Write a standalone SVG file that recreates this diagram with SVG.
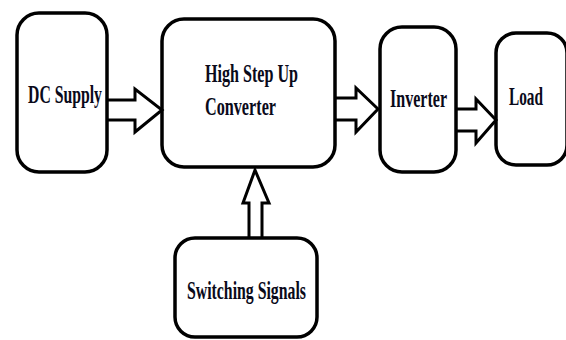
<svg xmlns="http://www.w3.org/2000/svg" width="566" height="340" viewBox="0 0 566 340">
<style>
.box{fill:none;stroke:#000;stroke-width:3.5}
.arr{fill:#fff;stroke:#000;stroke-width:3;stroke-linejoin:miter}
.t{font-family:"Liberation Serif","Times New Roman",serif;font-weight:bold;font-size:16px;fill:#0a0a1a}
</style>
<rect width="566" height="340" fill="#fff"/>
<g id="connectors">
<path class="arr" d="M107,100 H135 V89 L162,110 L135,132 V120 H107"/>
<path class="arr" d="M335,98 H356 V88 L378,109 L356,132 V120 H335"/>
<path class="arr" d="M456,109 H476 V99 L496,120 L476,143 V131 H456"/>
<path class="arr" d="M249,238 V203 H243 L255,170 L269,203 H262 V238"/>
</g>
<g id="dc-supply">
<rect class="box" x="17" y="13" width="90" height="159" rx="22"/>
<text class="t" transform="translate(28,103) scale(1,1.6)" textLength="74" lengthAdjust="spacingAndGlyphs">DC Supply</text>
</g>
<g id="converter">
<rect class="box" x="162" y="19" width="173" height="148" rx="22"/>
<text class="t" transform="translate(205,82) scale(1,1.6)" textLength="93" lengthAdjust="spacingAndGlyphs">High Step Up</text>
<text class="t" transform="translate(205,115) scale(1,1.6)" textLength="71" lengthAdjust="spacingAndGlyphs">Converter</text>
</g>
<g id="inverter">
<rect class="box" x="380" y="27" width="76" height="145" rx="22"/>
<text class="t" transform="translate(390,107) scale(1,1.6)" textLength="57" lengthAdjust="spacingAndGlyphs">Inverter</text>
</g>
<g id="load">
<rect class="box" x="496" y="33" width="71" height="132" rx="20"/>
<text class="t" transform="translate(509,105) scale(1,1.6)" textLength="34" lengthAdjust="spacingAndGlyphs">Load</text>
</g>
<g id="switching">
<rect class="box" x="175" y="238" width="142" height="99" rx="20"/>
<text class="t" transform="translate(187,299) scale(1,1.6)" textLength="119" lengthAdjust="spacingAndGlyphs">Switching Signals</text>
</g>
</svg>
